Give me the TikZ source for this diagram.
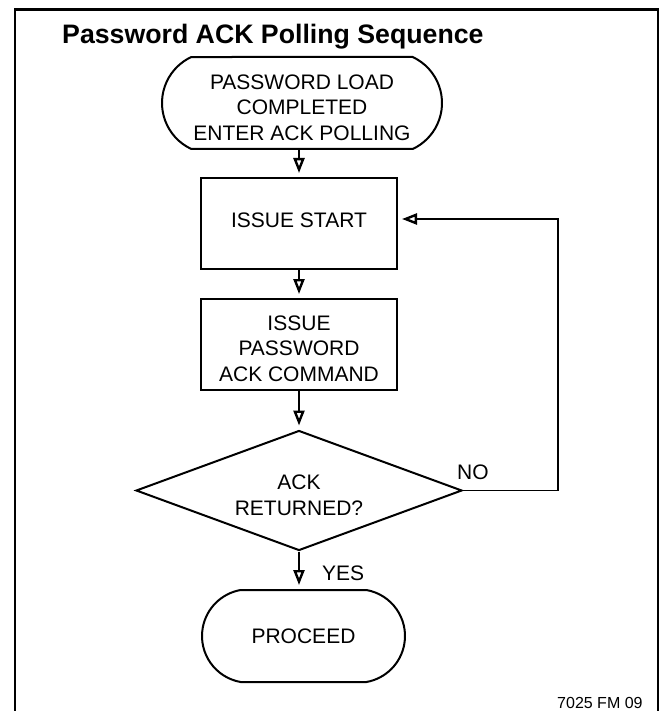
\documentclass[tikz,border=0pt]{standalone}
\usepackage{fontspec}
\setmainfont{Liberation Sans}
\usetikzlibrary{shapes.misc,shapes.geometric,arrows.meta}
\newcommand{\flowfont}{\fontsize{21}{25.5}\selectfont}

\begin{document}
\begin{tikzpicture}[x=1pt,y=-1pt]
        \useasboundingbox (0,0) rectangle (666,711);
        \draw[line width=2.6pt] (15,711) -- (15,9.5) -- (658,9.5) -- (658,711);
        \node (0) [anchor=base west,inner sep=0pt,font=\fontsize{26.7}{32}\selectfont\bfseries] at (62,44) {Password ACK Polling Sequence};
        \node (10) [anchor=base west,inner sep=0pt,font=\fontsize{16}{19}\selectfont] at (557,708) {7025 FM 09};
        \begin{scope}[every node/.style={rounded rectangle,draw,line width=2pt,inner sep=0pt,minimum height=92pt,align=center,font=\flowfont}]
            \node (1) [minimum width=258pt,rounded rectangle arc length=130,inner xsep=-11pt,text height=75pt] at (302,103) {PASSWORD LOAD\\COMPLETED\\ENTER ACK POLLING};
            \node (5) [minimum width=203pt,rounded rectangle arc length=160] at (303.5,636) {PROCEED};
        \end{scope}
        \begin{scope}[every node/.style={rectangle,draw,line width=2pt,inner sep=0pt,minimum width=196pt,minimum height=91pt,align=center,font=\flowfont}]
            \node (2) [text depth=7pt] at (299,223.5) {ISSUE START};
            \node (3) [text height=74pt] at (299,344.5) {ISSUE\\PASSWORD\\ACK COMMAND};
        \end{scope}
        \node (4) [diamond,draw,line width=2pt,inner sep=0pt,aspect=2.72,minimum width=326pt,minimum height=120pt,align=center,font=\flowfont,text height=49.5pt] at (299,490.5) {ACK\\RETURNED?};
        \begin{scope}[every node/.style={anchor=west,inner sep=0pt,font=\flowfont}]
            \node (41) at (457,472) {NO};
            \node (42) at (322,573) {YES};
        \end{scope}
        \coordinate (43) at (558,219);
        \begin{scope}[every edge/.style={draw,line width=1.2pt,-{Triangle[open,length=15pt,width=11pt,line width=2.4pt]},shorten >=4pt}]
            \path
                (1.south -| 2.north) edge (2.north)
                (2) edge (3)
                (3) edge (4)
                (4.south) edge (4.south |- 5.north)
                (4.east) edge[to path={-| (43) -- (\tikztotarget)}] (2.east |- 43);
        \end{scope}
    \end{tikzpicture}
\end{document}
